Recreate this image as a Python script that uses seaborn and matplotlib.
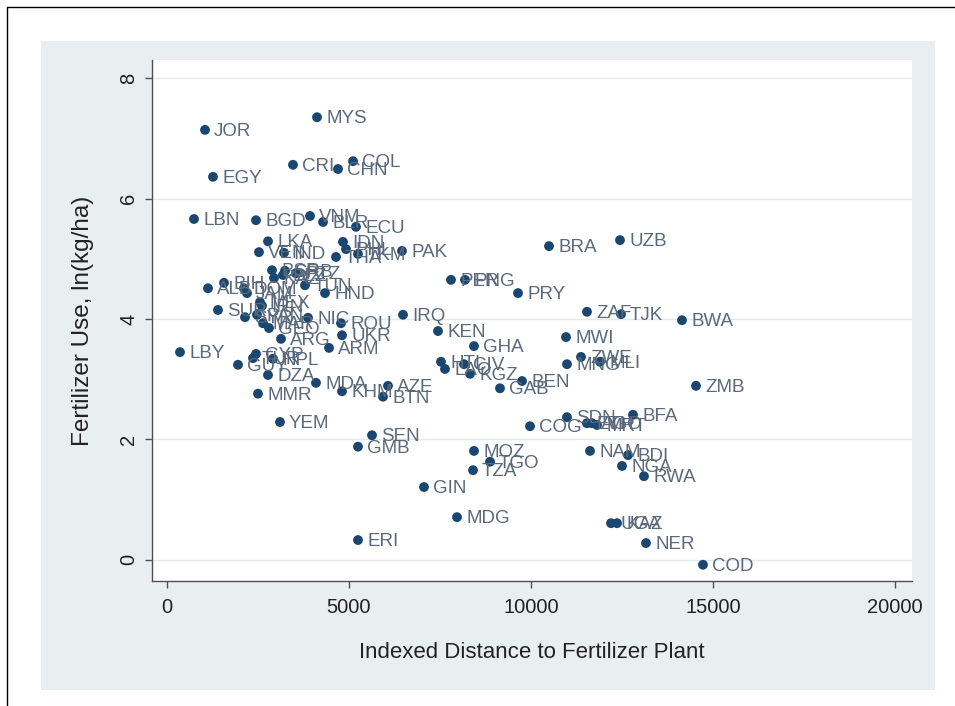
import matplotlib.pyplot as plt
import seaborn as sns
import pandas as pd
from matplotlib.patches import Rectangle
from matplotlib.lines import Line2D

# country codes, indexed distance to plant, ln fertilizer use
codes = ["JOR", "MYS", "CRI", "COL", "CHN", "EGY", "LBN", "BGD", "VNM", "BLR",
         "ECU", "LKA", "IDN", "PHL", "VEN", "IND", "THA", "TKM", "PAK", "BRA",
         "UZB", "BSR", "SRB", "KAZ", "BLZ", "PTZ", "TUN", "HND", "ALB", "BIH",
         "DOM", "JAM", "MEX", "IRN", "SUR", "SYR", "PAN", "MAR", "GEO", "NIC",
         "ROU", "UKR", "ARG", "ARM", "LBY", "CYP", "TUR", "NPL", "GUY", "DZA",
         "MDA", "KHM", "AZE", "BTN", "MMR", "YEM", "IRQ", "PER", "PNG", "PRY",
         "KEN", "GHA", "HTI", "LAO", "CIV", "KGZ", "BEN", "GAB", "ZAF", "TJK",
         "BWA", "MWI", "ZWE", "MNG", "MLI", "ZMB", "COG", "SDN", "ETH", "AGO",
         "MRT", "BFA", "SEN", "GMB", "MOZ", "TGO", "TZA", "GIN", "MDG", "ERI",
         "NAM", "BDI", "NGA", "RWA", "UGA", "KAZ", "NER", "COD"]
distance = [1044, 4121, 3462, 5110, 4698, 1264, 742, 2445, 3929, 4286,
            5192, 2775, 4835, 4918, 2527, 3214, 4643, 5247, 6456, 10495,
            12445, 2885, 3242, 2940, 3187, 3544, 3791, 4341, 1126, 1566,
            2115, 2198, 2555, 2610, 1401, 2143, 2473, 2637, 2802, 3874,
            4780, 4808, 3132, 4451, 357, 2445, 2363, 2912, 1951, 2775,
            4093, 4808, 6071, 5934, 2500, 3104, 6484, 7802, 8187, 9643,
            7445, 8434, 7527, 7637, 8159, 8324, 9753, 9148, 11538, 12473,
            14148, 10962, 11374, 10989, 11896, 14533, 9973, 10989, 11538, 11676,
            11813, 12802, 5632, 5247, 8434, 8874, 8407, 7060, 7967, 5247,
            11621, 12665, 12500, 13104, 12198, 12363, 13159, 14725]
fert_use = [7.14, 7.35, 6.56, 6.62, 6.49, 6.36, 5.66, 5.64, 5.71, 5.61,
            5.53, 5.29, 5.28, 5.16, 5.11, 5.10, 5.03, 5.08, 5.13, 5.21,
            5.31, 4.81, 4.80, 4.68, 4.73, 4.76, 4.56, 4.43, 4.51, 4.60,
            4.51, 4.43, 4.28, 4.22, 4.15, 4.03, 4.07, 3.93, 3.85, 4.02,
            3.93, 3.73, 3.67, 3.52, 3.45, 3.42, 3.35, 3.34, 3.24, 3.07,
            2.94, 2.80, 2.89, 2.71, 2.76, 2.29, 4.07, 4.65, 4.65, 4.43,
            3.80, 3.55, 3.29, 3.17, 3.25, 3.09, 2.97, 2.85, 4.12, 4.08,
            3.98, 3.70, 3.37, 3.25, 3.29, 2.89, 2.22, 2.37, 2.27, 2.27,
            2.24, 2.41, 2.07, 1.88, 1.81, 1.63, 1.49, 1.21, 0.71, 0.33,
            1.81, 1.74, 1.56, 1.39, 0.61, 0.61, 0.28, -0.08]

x_ticks = [0, 5000, 10000, 15000, 20000]
y_ticks = [0, 2, 4, 6, 8]

sns.set_style("white")
plt.rcParams['font.family'] = ['Liberation Sans', 'DejaVu Sans']

df = pd.DataFrame({"code": codes, "dist": distance, "fert": fert_use})

W, H = 955, 706
fig = plt.figure(figsize=(W / 100, H / 100), dpi=100)
fig.patch.set_facecolor("white")

# stata style graph region + frame lines
fig.add_artist(Rectangle((41 / W, 1 - 690 / H), (935 - 41) / W, (690 - 41) / H,
                         transform=fig.transFigure, facecolor="#e9eff1",
                         edgecolor="none", zorder=-1))
fig.add_artist(Line2D([7 / W, 7 / W], [0, 1 - 7 / H], color="black", lw=1))
fig.add_artist(Line2D([7 / W, 1], [1 - 7 / H, 1 - 7 / H], color="black", lw=1))

ax = fig.add_axes([152 / W, 1 - 581 / H, (912 - 152) / W, (581 - 60) / H])
ax.set_facecolor("white")

sns.scatterplot(data=df, x="dist", y="fert", ax=ax, color="#1a476f", s=50,
                edgecolor="none", zorder=3)

for c, xv, yv in zip(df["code"], df["dist"], df["fert"]):
    ax.annotate(c, (xv, yv), xytext=(6.5, -1), textcoords="offset points",
                ha="left", va="center", fontsize=13.5, color="#5a697c", zorder=4)

ax.set_xlim(-412, 20467)
ax.set_ylim(-0.35, 8.30)
ax.set_xticks(x_ticks)
ax.set_yticks(y_ticks)
ax.set_xticklabels([str(t) for t in x_ticks])
ax.set_yticklabels([str(t) for t in y_ticks], rotation=90, va="center")
ax.grid(axis="y", color="#e2e9ec", lw=1)
ax.grid(axis="x", visible=False)
ax.set_axisbelow(True)

for side in ["top", "right"]:
    ax.spines[side].set_visible(False)
for side in ["left", "bottom"]:
    ax.spines[side].set_color("#505050")
    ax.spines[side].set_linewidth(1)

ax.tick_params(axis="both", length=5, width=1, color="#505050", labelsize=14.5,
               labelcolor="#222222", left=True, bottom=True)
ax.tick_params(axis="y", pad=5)
ax.tick_params(axis="x", pad=7)

ax.set_xlabel("Indexed Distance to Fertilizer Plant", fontsize=16,
              color="#222222", labelpad=18)
ax.set_ylabel("Fertilizer Use, ln(kg/ha)", fontsize=17.5, color="#222222",
              labelpad=18)

fig.savefig("out.png", dpi=100)
